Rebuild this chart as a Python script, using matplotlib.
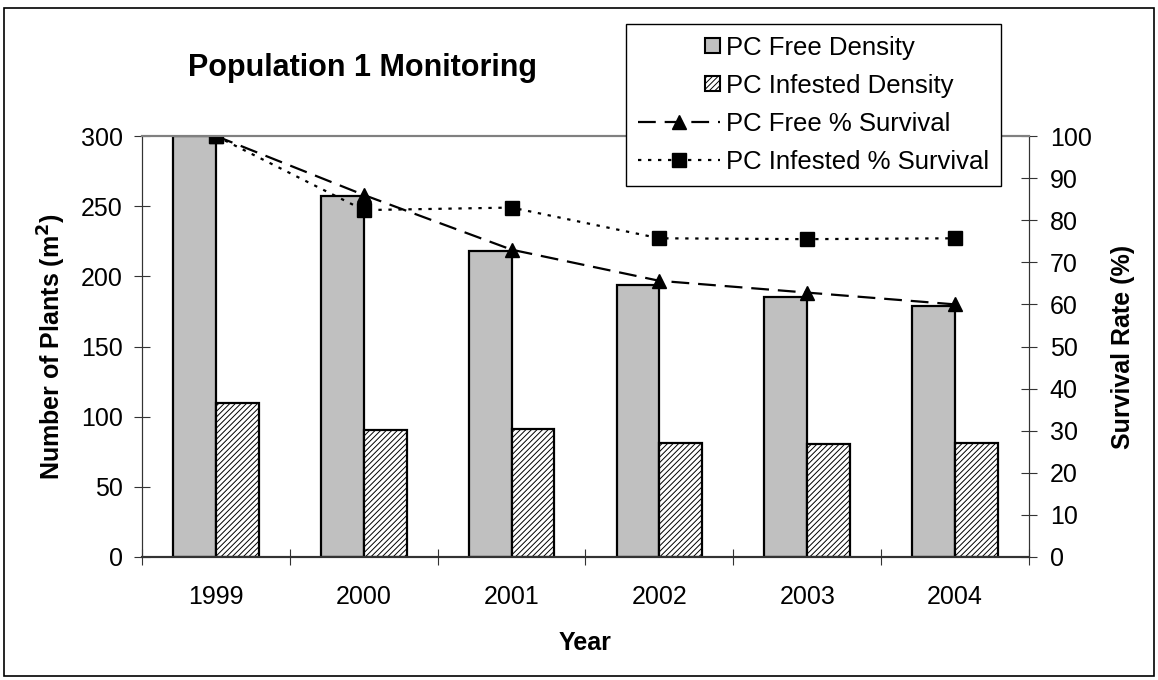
import numpy as np
import matplotlib
matplotlib.use("Agg")
import matplotlib.pyplot as plt
from matplotlib.patches import Rectangle
from matplotlib.lines import Line2D
from matplotlib.legend_handler import HandlerPatch

plt.rcParams['font.family'] = ['Liberation Sans', 'DejaVu Sans']
plt.rcParams['hatch.linewidth'] = 0.7

# data
years = ['1999', '2000', '2001', '2002', '2003', '2004']
free_density = [300, 257, 218, 194, 185, 179]
infested_density = [110, 90.5, 91, 81.5, 80.5, 81.5]
free_survival = [100, 86, 73, 65.6, 62.8, 60]
infested_survival = [100, 82.4, 83, 75.7, 75.5, 75.7]

W, H = 1158, 680
fig = plt.figure(figsize=(W / 100, H / 100), dpi=100)

# outer border of the chart area
fig.add_artist(Rectangle((4 / W, 4 / H), 1 - 8 / W, 1 - 12 / H, transform=fig.transFigure,
                         fill=False, edgecolor='black', lw=1.2))

ax = fig.add_axes([142 / W, (H - 557) / H, 887 / W, 421 / H])
ax2 = ax.twinx()

x = np.arange(len(years))
bw = 0.29
ax.bar(x - bw / 2, free_density, bw, color='#c0c0c0', edgecolor='black', lw=1.6, zorder=2)
ax.bar(x + bw / 2, infested_density, bw, color='white', edgecolor='black', lw=1.6,
       hatch='//////', zorder=2)

ax2.plot(x, free_survival, color='black', lw=1.6, dashes=(8, 4), marker='^', ms=10.5)
ax2.plot(x, infested_survival, color='black', lw=1.6, dashes=(1.5, 3), marker='s', ms=9.5)

ax.set_xlim(-0.5, len(years) - 0.5)
ax.set_ylim(0, 300)
ax2.set_ylim(0, 100)
ax.set_yticks(range(0, 301, 50))
ax2.set_yticks(range(0, 101, 10))

# ticks between categories, labels at the centres
ax.set_xticks(np.arange(-0.5, len(years), 1))
ax.set_xticklabels([])
ax.set_xticks(x, minor=True)
ax.set_xticklabels(years, minor=True)
ax.tick_params(axis='x', which='major', direction='inout', length=12, width=0.8, color='#333333')
ax.tick_params(axis='x', which='minor', length=0, labelsize=18, pad=20)
ax.tick_params(axis='y', direction='inout', length=12, width=0.8, color='#333333', labelsize=18, pad=8)
ax2.tick_params(axis='y', direction='inout', length=12, width=0.8, color='#333333', labelsize=18, pad=9)

for a in (ax, ax2):
    a.spines['top'].set_color('#808080')
    a.spines['top'].set_linewidth(1.5)
    a.spines['left'].set_color('#333333')
    a.spines['right'].set_color('#333333')
    a.spines['bottom'].set_color('#333333')
    a.spines['bottom'].set_linewidth(1.5)

ax.set_xlabel('Year', fontsize=18, fontweight='bold', labelpad=16)
ax.set_ylabel('Number of Plants (m$^\\mathbf{2}$)', fontsize=18, fontweight='bold', labelpad=9)
ax2.set_ylabel('Survival Rate (%)', fontsize=18, fontweight='bold', labelpad=14)

fig.text(188 / W, 1 - 68 / H, 'Population 1 Monitoring', fontsize=22, fontweight='bold',
         ha='left', va='center')


def small_square(legend, orig_handle, xdescent, ydescent, width, height, fontsize):
    s = height * 0.85
    return Rectangle((width - s - xdescent, -ydescent + (height - s) / 2), s, s)


h_free = Rectangle((0, 0), 1, 1, facecolor='#c0c0c0', edgecolor='black', lw=1.5)
h_inf = Rectangle((0, 0), 1, 1, facecolor='white', edgecolor='black', lw=1.5, hatch='//////')
h_l1 = Line2D([], [], color='black', lw=1.6, dashes=(8, 4), marker='^', ms=10.5)
h_l2 = Line2D([], [], color='black', lw=1.6, dashes=(1.5, 3), marker='s', ms=9.5)
leg = fig.legend([h_free, h_inf, h_l1, h_l2],
                 ['PC Free Density', 'PC Infested Density', 'PC Free % Survival',
                  'PC Infested % Survival'],
                 loc='upper right', bbox_to_anchor=(1001 / W, 1 - 24 / H),
                 fontsize=18.5, frameon=True, fancybox=False, framealpha=1,
                 edgecolor='black', handlelength=3.2, handletextpad=0.25,
                 labelspacing=0.55, borderpad=0.45, borderaxespad=0,
                 handler_map={Rectangle: HandlerPatch(patch_func=small_square)})
leg.get_frame().set_linewidth(1.0)

fig.savefig('out.png', dpi=100)
